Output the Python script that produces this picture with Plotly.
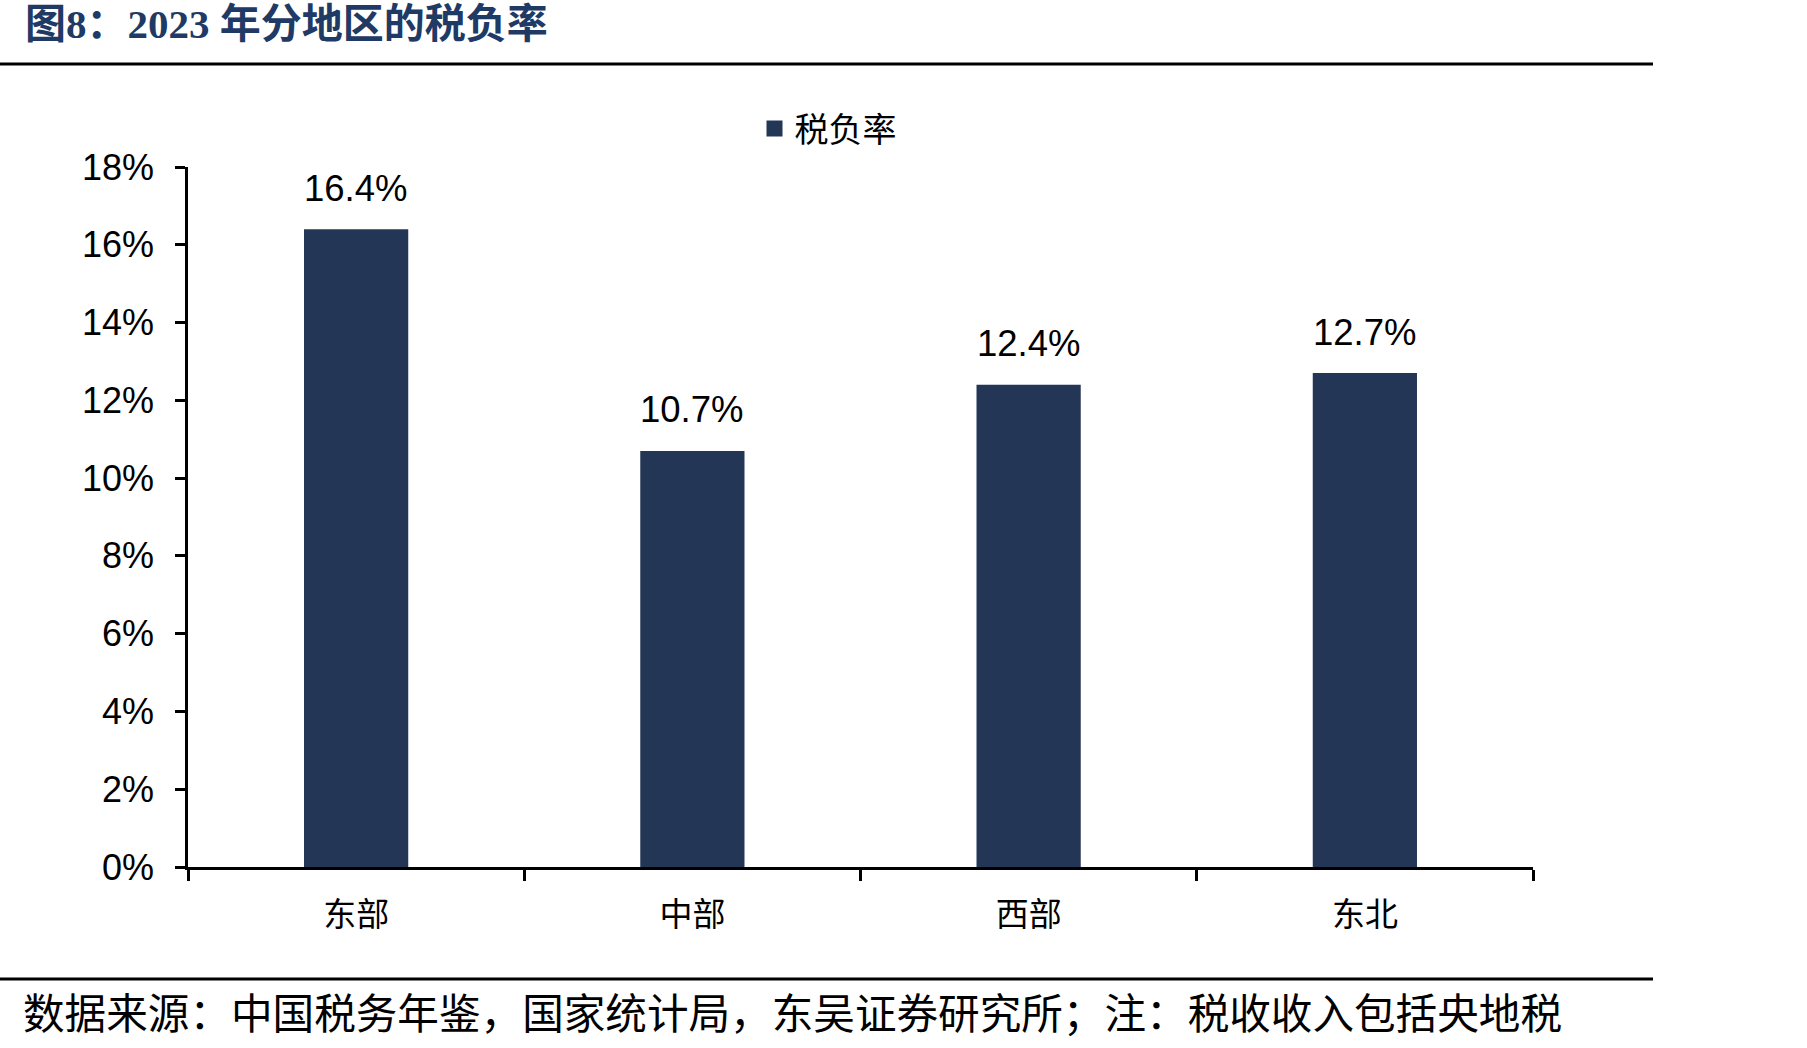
import plotly.graph_objects as go

# ---- data ----
categories = ["东部", "中部", "西部", "东北"]
tax_burden = [16.4, 10.7, 12.4, 12.7]  # %
series_name = "税负率"
y_ticks = [0, 2, 4, 6, 8, 10, 12, 14, 16, 18]
y_tick_labels = [f"{v}%" for v in y_ticks]
title_text = "图8：2023 年分地区的税负率"
footer_text = "数据来源：中国税务年鉴，国家统计局，东吴证券研究所；注：税收收入包括央地税"

# ---- layout geometry (pixels) ----
W, H = 1807, 1048
L, R, T, B = 188, 1533, 167, 867
BAR_COLOR = "#233656"
CJK = "Noto Sans CJK SC"


def px_x(x):
    return (x - L) / (R - L)


def px_y(y):
    return (B - y) / (B - T)


fig = go.Figure()
fig.add_trace(go.Bar(
    x=categories, y=tax_burden, marker=dict(color=BAR_COLOR, line=dict(width=0)),
    width=0.31, showlegend=False, name=series_name,
))
# legend entry (square marker)
fig.add_trace(go.Scatter(
    x=[None], y=[None], mode="markers", name=series_name,
    marker=dict(symbol="square", size=16, color=BAR_COLOR),
))

annotations = []
for c, v in zip(categories, tax_burden):
    annotations.append(dict(
        x=c, y=v, xref="x", yref="y", text=f"{v:.1f}%", showarrow=False,
        yanchor="middle", yshift=41,
        font=dict(family="Arial, Liberation Sans", size=36.5, color="#000000"),
    ))

annotations.append(dict(
    x=px_x(23), y=px_y(24), xref="paper", yref="paper", text=f"<b>{title_text}</b>",
    showarrow=False, xanchor="left", yanchor="middle",
    font=dict(family="Liberation Serif, " + CJK, size=41, color="#1F3A64"),
))
annotations.append(dict(
    x=px_x(21), y=px_y(1011), xref="paper", yref="paper", text=footer_text,
    showarrow=False, xanchor="left", yanchor="middle",
    font=dict(family=CJK, size=41.6, color="#000000"),
))

shapes = [
    dict(type="line", xref="paper", yref="paper", x0=px_x(0), x1=px_x(1653),
         y0=px_y(64), y1=px_y(64), line=dict(color="#000000", width=3)),
    dict(type="line", xref="paper", yref="paper", x0=px_x(0), x1=px_x(1653),
         y0=px_y(979), y1=px_y(979), line=dict(color="#000000", width=3)),
]

fig.update_layout(
    width=W, height=H,
    margin=dict(l=L, r=W - R, t=T, b=H - B, pad=0),
    paper_bgcolor="white", plot_bgcolor="white",
    annotations=annotations, shapes=shapes,
    showlegend=True,
    legend=dict(
        x=px_x(828), y=px_y(129), xanchor="center", yanchor="middle",
        orientation="h", bgcolor="rgba(0,0,0,0)",
        font=dict(family=CJK, size=34, color="#000000"),
    ),
    xaxis=dict(
        showline=True, linecolor="#000000", linewidth=2.5,
        ticks="outside", tickson="boundaries", ticklen=11, tickwidth=2.5, tickcolor="#000000",
        tickfont=dict(family=CJK, size=33, color="#000000"),
        ticklabelstandoff=17, showgrid=False, zeroline=False,
    ),
    yaxis=dict(
        range=[0, 18], tickvals=y_ticks, ticktext=y_tick_labels,
        showline=True, linecolor="#000000", linewidth=2.5,
        ticks="outside", ticklen=10, tickwidth=2.5, tickcolor="#000000",
        tickfont=dict(family="Arial, Liberation Sans", size=36, color="#000000"),
        ticklabelstandoff=14, showgrid=False, zeroline=False,
    ),
)

fig.write_html("out.html")
